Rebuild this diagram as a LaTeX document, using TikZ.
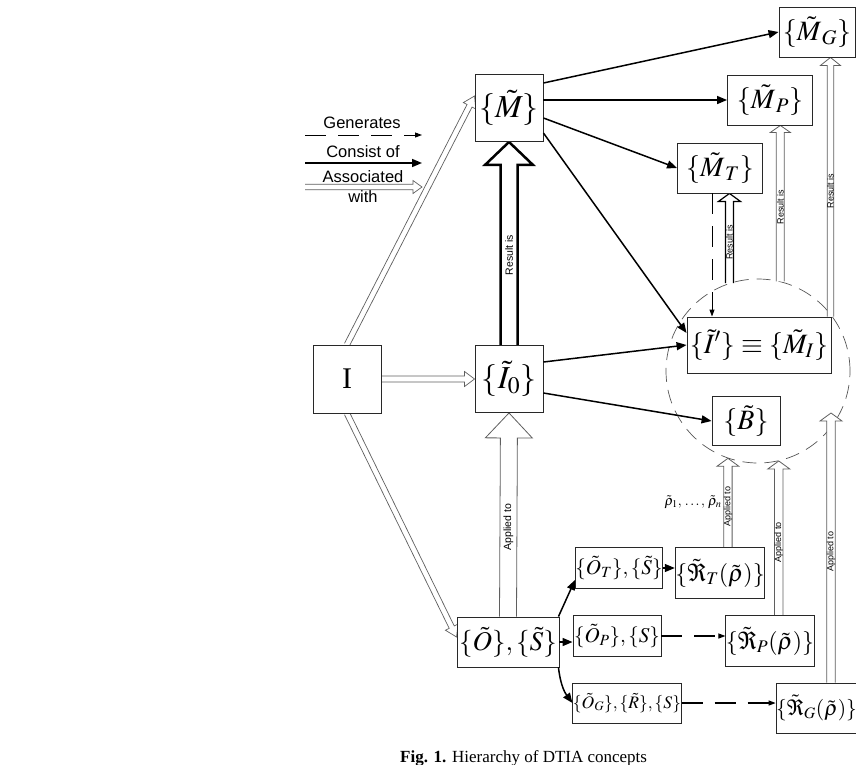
\documentclass[tikz,border=0pt]{standalone}
\usepackage{mathptmx}
\usepackage{fontspec}
\setmainfont{Liberation Serif}
\setsansfont{Liberation Sans}
\usetikzlibrary{arrows.meta,calc,positioning,backgrounds}
\definecolor{boxline}{RGB}{40,40,40}
\definecolor{hollowline}{RGB}{95,95,95}
\definecolor{ringline}{RGB}{85,85,85}

% hollow arrow: style, from, to, half shaft, half head, head length, label
\newcommand\hollowarrow[7][]{%
  \coordinate (hb) at ($(#3)!#6!(#2)$);
  \draw[#1] ($(#2)!#4!90:(#3)$) -- ($(hb)!#4!90:(#3)$) -- ($(hb)!#5!90:(#3)$) -- (#3)
    -- ($(hb)!#5!-90:(#3)$) -- ($(hb)!#4!-90:(#3)$) -- ($(#2)!#4!-90:(#3)$);
  \path (#2) -- (hb) node[midway,lbl] {#7};
}

\begin{document}
\begin{tikzpicture}[x=1pt,y=-1pt,
    bx/.style={draw=boxline,line width=0.9pt,fill=white,inner sep=0pt},
    big/.style={font=\fontsize{32}{34}\selectfont},
    mid/.style={font=\fontsize{28}{30}\selectfont},
    sml/.style={font=\fontsize{21}{23}\selectfont},
    tny/.style={font=\fontsize{17.5}{19}\selectfont},
    rul/.style={font=\fontsize{24}{26}\selectfont},
    cons/.style={-{Triangle[length=10pt,width=8pt]},line width=1.5pt,black},
    gen/.style={-{Triangle[length=7pt,width=5pt]},line width=0.9pt,
                dash pattern=on 21pt off 12pt,black},
    assoc/.style={draw=hollowline,line width=0.7pt,fill=white},
    res/.style={draw=hollowline,line width=0.8pt,fill=white},
    resdark/.style={draw=black,line width=1.2pt,fill=white},
    resbold/.style={draw=black,line width=2.5pt,fill=white},
    lbl/.style={font=\sffamily\fontsize{9}{9}\selectfont,rotate=90,inner sep=0pt},
    leg/.style={font=\sffamily\fontsize{16.5}{17}\selectfont,inner sep=0pt}
  ]
  \useasboundingbox (0,0) rectangle (856,764);

  % legend
  \node[leg] (lgen) at (362,123) {Generates};
  \node[leg] (lcon) at (363,152) {Consist of};
  \node[leg] (lass) at (363,177) {Associated};
  \node[leg] (lwith) at (363,197) {with};
  \coordinate (lg1) at (305,135); \coordinate (lg2) at (422,135);
  \coordinate (lc1) at (305,163); \coordinate (lc2) at (422,163);
  \coordinate (la1) at (305,187); \coordinate (la2) at (422,187);
  \draw[gen] (lg1) -- (lg2);
  \draw[cons] (lc1) -- (lc2);
  \hollowarrow[assoc]{la1}{la2}{2.8pt}{6.5pt}{9pt}{}

  % sets
  \node[bx,minimum width=68pt,minimum height=68pt,font=\fontsize{30}{32}\selectfont] (img) at (347,379) {I};
  \node[bx,minimum width=68pt,minimum height=67pt,big] (mset) at (509,108) {$\{\tilde{M}\}$};
  \node[bx,minimum width=68pt,minimum height=67pt,big] (izero) at (509,379) {$\{\tilde{I}_0\}$};
  \node[bx,minimum width=76pt,minimum height=50pt,mid] (mG) at (817,32) {$\{\tilde{M}_{\,G}\}$};
  \node[bx,minimum width=85pt,minimum height=50pt,mid] (mP) at (770,100) {$\{\tilde{M}_{\,P}\}$};
  \node[bx,minimum width=85pt,minimum height=50pt,mid] (mT) at (720,168) {$\{\tilde{M}_{\,T}\}$};
  \node[bx,minimum width=144pt,minimum height=56pt,mid] (iprime) at (759,345) {$\{\tilde{I}'\}\equiv\{\tilde{M}_I\}$};
  \node[bx,minimum width=68pt,minimum height=49pt,mid] (bset) at (746,421) {$\{\tilde{B}\}$};
  \node[bx,minimum width=102pt,minimum height=50pt,font=\fontsize{27}{29}\selectfont] (obj) at (508,642) {$\{\tilde{O}\},\{\tilde{S}\}$};
  \node[bx,minimum width=87pt,minimum height=41pt,sml] (objT) at (619,568) {$\{\tilde{O}_T\},\{\tilde{S}\}$};
  \node[bx,minimum width=88pt,minimum height=41pt,sml] (objP) at (617,636) {$\{\tilde{O}_P\},\{S\}$};
  \node[bx,minimum width=101pt,minimum height=40pt,tny] (objG) at (627,703) {$\{\tilde{O}_G\},\{\tilde{R}\},\{S\}$};
  \node[bx,minimum width=85pt,minimum height=51pt,rul] (ruleT) at (720,573) {$\{\tilde{\Re}_T(\tilde{\rho})\}$};
  \node[bx,minimum width=85pt,minimum height=51pt,rul] (ruleP) at (770,641) {$\{\tilde{\Re}_P(\tilde{\rho})\}$};
  \node[bx,minimum width=75pt,minimum height=50pt,font=\fontsize{21.5}{23}\selectfont] (ruleG) at (816.5,708) {$\{\tilde{\Re}_G(\tilde{\rho})\}$};
  \node[font=\fontsize{14}{16}\selectfont] (rholist) at (693,502) {$\tilde{\rho}_{1},\,\ldots,\,\tilde{\rho}_{n}$};

  % consist of
  \draw[cons] ([yshift=25pt]mset.east) -- (mG.west);
  \draw[cons] (mset.east |- mP.west) -- (mP.west);
  \draw[cons] ([yshift=-10pt]mset.east) -- (mT.west);
  \draw[cons] ([yshift=-25pt]mset.east) -- ([yshift=12pt]iprime.west);
  \draw[cons] ([yshift=17pt]izero.east) -- (iprime.west);
  \draw[cons] ([yshift=-14pt]izero.east) -- (bset.west);
  \draw[cons] ([xshift=-1pt]obj.north east) -- ([yshift=9pt]objT.south west);
  \draw[cons] (obj.east) -- (obj.east -| objP.west);
  \draw[cons] ([xshift=-1pt]obj.south east) to[bend right=15] (objG.west);
  \draw[cons,line width=1.2pt] (objT.east) -- (objT.east -| ruleT.west);

  % generates
  \coordinate (gt) at ([xshift=-8pt]mT.south);
  \draw[gen] (gt) -- (gt |- iprime.north);
  \draw[gen,line width=1.1pt] (objP.east) -- (objP.east -| ruleP.west);
  \draw[gen,line width=1.1pt] (objG.east) -- (objG.east -| ruleG.west);

  \begin{scope}[on background layer]
    \node[circle,draw=ringline,line width=0.7pt,dash pattern=on 14pt off 8pt,
          minimum size=184pt,inner sep=0pt] (zone) at (758,371) {};
    % associated with
    \coordinate (am) at ([yshift=12pt]mset.west);
    \coordinate (ao) at ([yshift=5pt]obj.west);
    \hollowarrow[assoc]{img.north}{am}{2.8pt}{7pt}{11pt}{}
    \hollowarrow[assoc]{img.east}{izero.west}{3pt}{7.5pt}{10pt}{}
    \hollowarrow[assoc]{img.south}{ao}{2.8pt}{7pt}{11pt}{}
    % result is
    \hollowarrow[resbold]{izero.north}{mset.south}{8.5pt}{24pt}{23pt}{\fontsize{10.5}{10.5}\selectfont Result is}
    \coordinate (rt1) at (zone.108.4); \coordinate (rt2) at (rt1 |- mT.south);
    \hollowarrow[resdark]{rt1}{rt2}{4pt}{11pt}{8pt}{Result is}
    \coordinate (rp1) at (zone.76.8); \coordinate (rp2) at (rp1 |- mP.south);
    \hollowarrow[res]{rp1}{rp2}{4pt}{10pt}{7pt}{Result is}
    \coordinate (rg1) at ([xshift=-1pt]iprime.north east); \coordinate (rg2) at (rg1 |- mG.south);
    \hollowarrow[res]{rg1}{rg2}{3.2pt}{10pt}{8pt}{Result is}
    % applied to
    \hollowarrow[res]{obj.north}{izero.south}{8.5pt}{23.5pt}{25pt}{\fontsize{10.5}{10.5}\selectfont Applied to}
    \coordinate (at2) at (zone.251.6); \coordinate (at1) at (at2 |- ruleT.north);
    \hollowarrow[res]{at1}{at2}{4.2pt}{11pt}{8pt}{Applied to}
    \coordinate (ap2) at (zone.283.2); \coordinate (ap1) at (ap2 |- ruleP.north);
    \hollowarrow[res]{ap1}{ap2}{4.2pt}{11pt}{8pt}{Applied to}
    \coordinate (ag2) at ($(zone.center)+(73,42)$); \coordinate (ag1) at (ag2 |- ruleG.north);
    \hollowarrow[res]{ag1}{ag2}{4.2pt}{11pt}{8pt}{Applied to}
  \end{scope}

  \node[anchor=base west,inner sep=0pt,font=\fontsize{17}{19}\selectfont] (caption) at (400,762)
    {\textbf{Fig. 1.} Hierarchy of DTIA concepts};
\end{tikzpicture}
\end{document}
